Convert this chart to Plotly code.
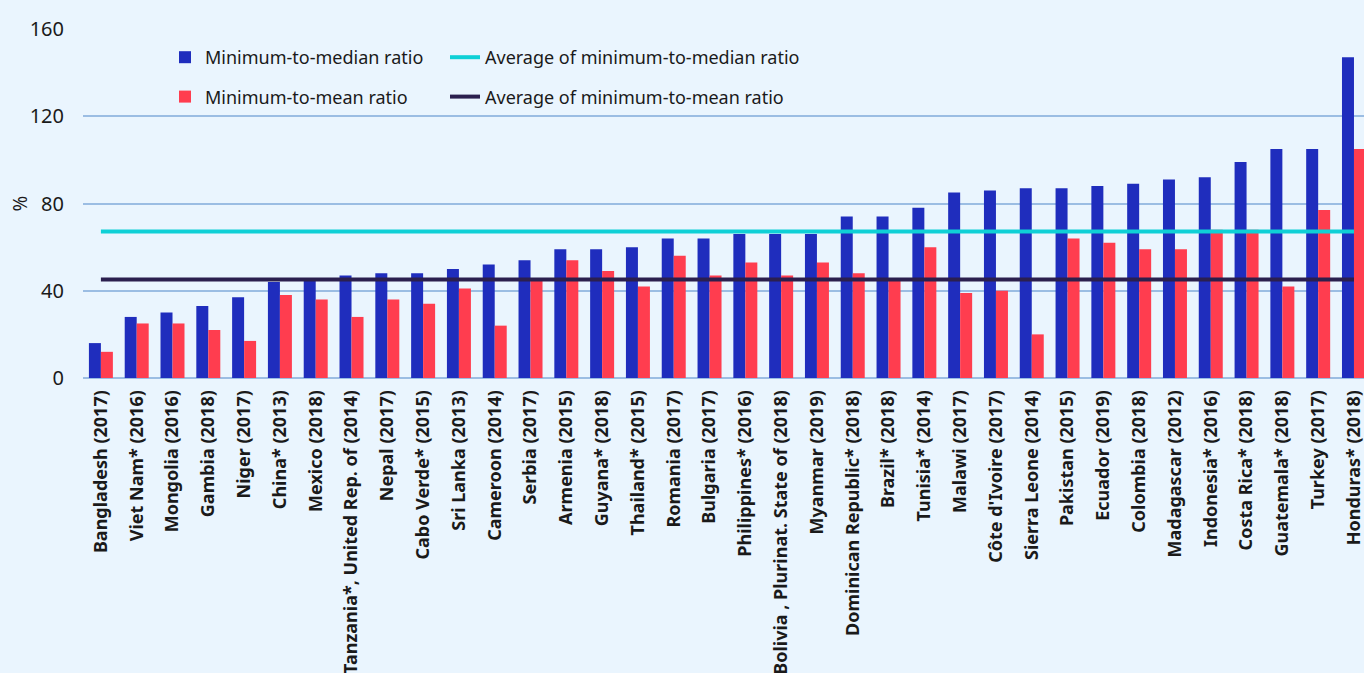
import plotly.graph_objects as go

categories = [
    "Bangladesh (2017)", "Viet Nam* (2016)", "Mongolia (2016)", "Gambia (2018)",
    "Niger (2017)", "China* (2013)", "Mexico (2018)", "Tanzania*, United Rep. of (2014)",
    "Nepal (2017)", "Cabo Verde* (2015)", "Sri Lanka (2013)", "Cameroon (2014)",
    "Serbia (2017)", "Armenia (2015)", "Guyana* (2018)", "Thailand* (2015)",
    "Romania (2017)", "Bulgaria (2017)", "Philippines* (2016)",
    "Bolivia , Plurinat. State of (2018)", "Myanmar (2019)",
    "Dominican Republic* (2018)", "Brazil* (2018)", "Tunisia* (2014)",
    "Malawi (2017)", "Côte d'Ivoire (2017)", "Sierra Leone (2014)",
    "Pakistan (2015)", "Ecuador (2019)", "Colombia (2018)", "Madagascar (2012)",
    "Indonesia* (2016)", "Costa Rica* (2018)", "Guatemala* (2018)",
    "Turkey (2017)", "Honduras* (2018)",
]
min_to_median = [16, 28, 30, 33, 37, 44, 45, 47, 48, 48, 50, 52, 54, 59, 59, 60,
                 64, 64, 66, 66, 66, 74, 74, 78, 85, 86, 87, 87, 88, 89, 91, 92,
                 99, 105, 105, 147]
min_to_mean = [12, 25, 25, 22, 17, 38, 36, 28, 36, 34, 41, 24, 45, 54, 49, 42,
               56, 47, 53, 47, 53, 48, 45, 60, 39, 40, 20, 64, 62, 59, 59, 68,
               68, 42, 77, 105]
avg_median = 67.2
avg_mean = 45.2
y_ticks = [0, 40, 80, 120, 160]

BLUE = "#1f2dbd"
RED = "#ff3d4f"
CYAN = "#0fd0d6"
DARK = "#2b1f4e"
BG = "#eaf5fe"
GRID = "#9bbde3"
TXT = "#1a1a1a"

fig = go.Figure()
fig.add_trace(go.Bar(x=categories, y=min_to_median, name="Minimum-to-median ratio",
                     marker=dict(color=BLUE, line=dict(width=0)), legend="legend",
                     legendgroup="a"))
fig.add_trace(go.Bar(x=categories, y=min_to_mean, name="Minimum-to-mean ratio",
                     marker=dict(color=RED, line=dict(width=0)), legend="legend",
                     legendgroup="b"))
fig.add_trace(go.Scatter(x=categories, y=[avg_median] * len(categories), mode="lines",
                         name="Average of minimum-to-median ratio",
                         line=dict(color=CYAN, width=4), legend="legend2",
                         legendgroup="c"))
fig.add_trace(go.Scatter(x=categories, y=[avg_mean] * len(categories), mode="lines",
                         name="Average of minimum-to-mean ratio",
                         line=dict(color=DARK, width=4), legend="legend2",
                         legendgroup="d"))

legend_common = dict(
    orientation="v", xanchor="left", yanchor="top",
    bgcolor="rgba(0,0,0,0)", font=dict(family="Noto Sans", size=18, color=TXT),
    traceorder="grouped", tracegroupgap=13, itemwidth=30,
)
fig.update_layout(
    width=1364, height=673,
    margin=dict(l=83, r=0, t=29, b=295),
    paper_bgcolor=BG, plot_bgcolor=BG,
    barmode="group", bargap=0.33, bargroupgap=0,
    showlegend=True,
    legend=dict(x=(165 - 83) / 1281, y=1 - (39 - 29) / 349, **legend_common),
    legend2=dict(x=(445 - 83) / 1281, y=1 - (39 - 29) / 349, **legend_common),
    font=dict(family="Noto Sans", color=TXT),
)
fig.update_xaxes(
    type="category", tickangle=-90, automargin=False,
    range=[-0.5, 35.28],
    tickfont=dict(family="Noto Sans", size=18, color=TXT, weight="bold"),
    showgrid=False, showline=False, ticks="outside", ticklen=4,
    tickcolor="rgba(0,0,0,0)",
)
fig.update_yaxes(
    range=[0, 160], tickvals=y_ticks, automargin=False,
    showgrid=True, gridcolor=GRID, gridwidth=1.5,
    zeroline=True, zerolinecolor=GRID, zerolinewidth=1.5,
    ticks="outside", ticklen=14, tickcolor="rgba(0,0,0,0)",
    tickfont=dict(family="Noto Sans", size=20, color=TXT),
)
fig.add_annotation(text="%", xref="paper", yref="paper",
                   x=(19 - 83) / 1281, y=0.5, xanchor="center", yanchor="middle",
                   showarrow=False, textangle=-90,
                   font=dict(family="Noto Sans", size=19, color=TXT))

fig.write_html("out.html", config={"displayModeBar": False},
               post_script="document.body.style.margin='0';document.body.style.overflow='hidden';")
